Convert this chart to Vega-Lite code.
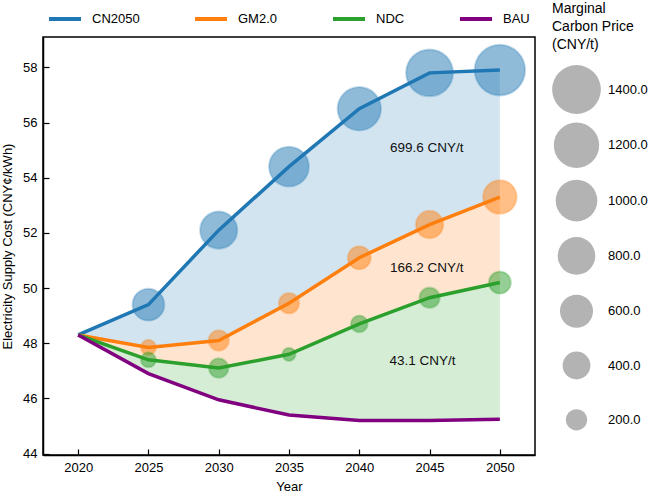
{
  "$schema": "https://vega.github.io/schema/vega-lite/v6.json",
  "width": 492,
  "height": 418,
  "autosize": "none",
  "padding": {"left": 43, "top": 37, "right": 115, "bottom": 40},
  "background": "white",
  "datasets": {
    "cost": [
      {"scenario": "CN2050", "year": 2020, "cost": 48.3, "price": null},
      {"scenario": "CN2050", "year": 2025, "cost": 49.4, "price": 553},
      {"scenario": "CN2050", "year": 2030, "cost": 52.1, "price": 782},
      {"scenario": "CN2050", "year": 2035, "cost": 54.4, "price": 910},
      {"scenario": "CN2050", "year": 2040, "cost": 56.5, "price": 1094},
      {"scenario": "CN2050", "year": 2045, "cost": 57.8, "price": 1294},
      {"scenario": "CN2050", "year": 2050, "cost": 57.9, "price": 1510},
      {"scenario": "GM2.0", "year": 2020, "cost": 48.3, "price": null},
      {"scenario": "GM2.0", "year": 2025, "cost": 47.85, "price": 59},
      {"scenario": "GM2.0", "year": 2030, "cost": 48.1, "price": 177},
      {"scenario": "GM2.0", "year": 2035, "cost": 49.45, "price": 177},
      {"scenario": "GM2.0", "year": 2040, "cost": 51.1, "price": 249},
      {"scenario": "GM2.0", "year": 2045, "cost": 52.3, "price": 389},
      {"scenario": "GM2.0", "year": 2050, "cost": 53.3, "price": 625},
      {"scenario": "NDC", "year": 2020, "cost": 48.3, "price": null},
      {"scenario": "NDC", "year": 2025, "cost": 47.4, "price": 59},
      {"scenario": "NDC", "year": 2030, "cost": 47.1, "price": 155},
      {"scenario": "NDC", "year": 2035, "cost": 47.6, "price": 28},
      {"scenario": "NDC", "year": 2040, "cost": 48.7, "price": 94},
      {"scenario": "NDC", "year": 2045, "cost": 49.65, "price": 177},
      {"scenario": "NDC", "year": 2050, "cost": 50.2, "price": 224},
      {"scenario": "BAU", "year": 2020, "cost": 48.3, "price": null},
      {"scenario": "BAU", "year": 2025, "cost": 46.9, "price": null},
      {"scenario": "BAU", "year": 2030, "cost": 45.95, "price": null},
      {"scenario": "BAU", "year": 2035, "cost": 45.4, "price": null},
      {"scenario": "BAU", "year": 2040, "cost": 45.2, "price": null},
      {"scenario": "BAU", "year": 2045, "cost": 45.2, "price": null},
      {"scenario": "BAU", "year": 2050, "cost": 45.25, "price": null}
    ],
    "notes": [
      {"year": 2044.8, "cost": 55.06, "text": "699.6 CNY/t"},
      {"year": 2044.8, "cost": 50.74, "text": "166.2 CNY/t"},
      {"year": 2044.5, "cost": 47.36, "text": "43.1 CNY/t"}
    ]
  },
  "encoding": {
    "x": {
      "field": "year",
      "type": "quantitative",
      "title": "Year",
      "scale": {"domain": [2017.5, 2052.5], "nice": false, "zero": false},
      "axis": {"values": [2020, 2025, 2030, 2035, 2040, 2045, 2050], "format": "d", "grid": false}
    }
  },
  "layer": [
    {
      "data": {"name": "cost"},
      "transform": [{"pivot": "scenario", "value": "cost", "groupby": ["year"]}],
      "mark": {"type": "area", "color": "#1f77b4", "opacity": 0.2},
      "encoding": {
        "y": {
          "field": "CN2050",
          "type": "quantitative",
          "title": "Electricity Supply Cost (CNY¢/kWh)",
          "scale": {"domain": [43.95, 59.1], "nice": false, "zero": false},
          "axis": {"values": [44, 46, 48, 50, 52, 54, 56, 58]}
        },
        "y2": {"field": "GM2\\.0"}
      }
    },
    {
      "data": {"name": "cost"},
      "transform": [{"pivot": "scenario", "value": "cost", "groupby": ["year"]}],
      "mark": {"type": "area", "color": "#ff7f0e", "opacity": 0.2},
      "encoding": {
        "y": {
          "field": "GM2\\.0",
          "type": "quantitative",
          "title": "Electricity Supply Cost (CNY¢/kWh)",
          "scale": {"domain": [43.95, 59.1], "nice": false, "zero": false}
        },
        "y2": {"field": "NDC"}
      }
    },
    {
      "data": {"name": "cost"},
      "transform": [{"pivot": "scenario", "value": "cost", "groupby": ["year"]}],
      "mark": {"type": "area", "color": "#2ca02c", "opacity": 0.2},
      "encoding": {
        "y": {
          "field": "NDC",
          "type": "quantitative",
          "title": "Electricity Supply Cost (CNY¢/kWh)",
          "scale": {"domain": [43.95, 59.1], "nice": false, "zero": false}
        },
        "y2": {"field": "BAU"}
      }
    },
    {
      "data": {"name": "cost"},
      "mark": {"type": "line", "strokeWidth": 3.5},
      "encoding": {
        "y": {
          "field": "cost",
          "type": "quantitative",
          "title": "Electricity Supply Cost (CNY¢/kWh)",
          "scale": {"domain": [43.95, 59.1], "nice": false, "zero": false}
        },
        "color": {
          "field": "scenario",
          "type": "nominal",
          "scale": {"domain": ["CN2050", "GM2.0", "NDC", "BAU"], "range": ["#1f77b4", "#ff7f0e", "#2ca02c", "#800080"]},
          "legend": {
            "title": null,
            "orient": "none",
            "direction": "horizontal",
            "columns": 4,
            "legendX": 4,
            "legendY": -36,
            "symbolType": "stroke",
            "symbolSize": 1024,
            "symbolStrokeWidth": 4,
            "columnPadding": 47,
            "labelOffset": 9,
            "labelFontSize": 13,
            "padding": 0
          }
        }
      }
    },
    {
      "data": {"name": "cost"},
      "transform": [{"filter": "isValid(datum.price)"}],
      "mark": {"type": "circle", "fillOpacity": 0.5, "strokeWidth": 2, "strokeOpacity": 0.25},
      "encoding": {
        "y": {
          "field": "cost",
          "type": "quantitative",
          "title": "Electricity Supply Cost (CNY¢/kWh)",
          "scale": {"domain": [43.95, 59.1], "nice": false, "zero": false}
        },
        "fill": {
          "field": "scenario",
          "type": "nominal",
          "scale": {"domain": ["CN2050", "GM2.0", "NDC", "BAU"], "range": ["#1f77b4", "#ff7f0e", "#2ca02c", "#800080"]},
          "legend": null
        },
        "stroke": {
          "field": "scenario",
          "type": "nominal",
          "scale": {"domain": ["CN2050", "GM2.0", "NDC", "BAU"], "range": ["#1f77b4", "#ff7f0e", "#2ca02c", "#800080"]},
          "legend": null
        },
        "size": {
          "field": "price",
          "type": "quantitative",
          "title": ["Marginal", "Carbon Price", "(CNY/t)"],
          "scale": {"type": "linear", "domain": [0, 1400], "range": [132, 2376], "zero": false, "nice": false},
          "legend": {
            "orient": "none",
            "legendX": 509,
            "legendY": -35,
            "values": [1400, 1200, 1000, 800, 600, 400, 200],
            "format": ".1f",
            "symbolType": "circle",
            "symbolFillColor": "#b3b3b3",
            "symbolStrokeColor": "#b3b3b3",
            "symbolStrokeWidth": 0,
            "symbolOpacity": 1,
            "gridAlign": "all",
            "labelOffset": 7,
            "labelFontSize": 13,
            "titleFontSize": 14,
            "titleFontWeight": "normal",
            "titleBaseline": "top",
            "titleLineHeight": 18,
            "titlePadding": 13,
            "rowPadding": 8.3,
            "padding": 0
          }
        }
      }
    },
    {
      "data": {"name": "notes"},
      "mark": {"type": "text", "fontSize": 13.5, "color": "#111", "align": "center"},
      "encoding": {
        "y": {
          "field": "cost",
          "type": "quantitative",
          "title": "Electricity Supply Cost (CNY¢/kWh)",
          "scale": {"domain": [43.95, 59.1], "nice": false, "zero": false}
        },
        "text": {"field": "text"}
      }
    }
  ],
  "config": {
    "font": "Liberation Sans",
    "view": {"stroke": "#000", "strokeWidth": 1.5},
    "axis": {
      "domainColor": "#000",
      "domainWidth": 1.5,
      "tickColor": "#000",
      "tickWidth": 1.2,
      "tickSize": -6,
      "labelPadding": 12,
      "labelFontSize": 13,
      "labelColor": "#000",
      "titleFontSize": 13,
      "titleFontWeight": "normal",
      "titleColor": "#000",
      "grid": false
    },
    "axisY": {"titlePadding": 8},
    "axisX": {"titlePadding": 6},
    "legend": {"labelColor": "#000", "titleColor": "#000"}
  }
}
